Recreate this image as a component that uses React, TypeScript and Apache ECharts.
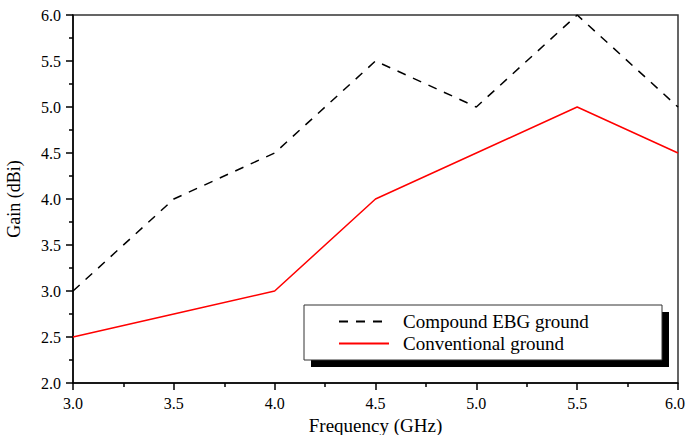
import React, { useEffect, useRef } from "react";
import * as echarts from "echarts";

const frequencies = [3.0, 3.5, 4.0, 4.5, 5.0, 5.5, 6.0];
const ebgGain = [3.0, 4.0, 4.5, 5.5, 5.0, 6.0, 5.0];
const conventionalGain = [2.5, 2.75, 3.0, 4.0, 4.5, 5.0, 4.5];
const seriesNames = ["Compound EBG ground", "Conventional ground"];

const FONT = "'Liberation Serif', 'Times New Roman', serif";

export default function App() {
  const ref = useRef<HTMLDivElement>(null);
  useEffect(() => {
    if (!ref.current) return;
    const chart = echarts.init(ref.current, undefined, { renderer: "svg" });
    const pairs = (ys: number[]) => frequencies.map((x, i) => [x, ys[i]]);
    chart.setOption({
      animation: false,
      backgroundColor: "#fff",
      textStyle: { fontFamily: FONT },
      grid: {
        left: 73,
        top: 15,
        right: 8,
        bottom: 52,
        show: true,
        borderColor: "#333",
        borderWidth: 1.5,
        containLabel: false,
        outerBoundsMode: "none",
      },
      xAxis: {
        type: "value",
        min: 3.0,
        max: 6.0,
        interval: 0.5,
        name: "Frequency (GHz)",
        nameLocation: "middle",
        nameGap: 23,
        nameTextStyle: { fontFamily: FONT, fontSize: 19, color: "#000" },
        axisLine: { lineStyle: { color: "#000", width: 1.5 } },
        axisTick: { show: true, length: 7, inside: false, lineStyle: { color: "#000", width: 1.5 } },
        minorTick: { show: true, splitNumber: 2, length: 4, lineStyle: { color: "#000", width: 1.5 } },
        splitLine: { show: false },
        axisLabel: {
          fontFamily: FONT,
          fontSize: 16,
          color: "#000",
          margin: 12,
          formatter: (v: number) => (v >= 6 ? "{m|" + v.toFixed(1) + "}" : v.toFixed(1)),
          rich: { m: { fontFamily: FONT, fontSize: 16, color: "#000", padding: [0, 6, 0, 0] } },
        },
      },
      yAxis: {
        type: "value",
        min: 2.0,
        max: 6.0,
        interval: 0.5,
        name: "Gain (dBi)",
        nameLocation: "middle",
        nameGap: 50,
        nameTextStyle: { fontFamily: FONT, fontSize: 18, color: "#000" },
        axisLine: { show: true, lineStyle: { color: "#000", width: 1.5 } },
        axisTick: { show: true, length: 7, inside: false, lineStyle: { color: "#000", width: 1.5 } },
        minorTick: { show: true, splitNumber: 2, length: 4, lineStyle: { color: "#000", width: 1.5 } },
        splitLine: { show: false },
        axisLabel: {
          fontFamily: FONT,
          fontSize: 16,
          color: "#000",
          margin: 12,
          formatter: (v: number) => v.toFixed(1),
        },
      },
      legend: {
        orient: "vertical",
        left: 338,
        top: 312,
        padding: 0,
        itemWidth: 50,
        itemHeight: 14,
        itemGap: 3,
        z: 10,
        itemStyle: { opacity: 0 },
        textStyle: {
          fontFamily: FONT,
          fontSize: 19,
          lineHeight: 19,
          color: "#000",
          padding: [0, 0, 0, 9],
        },
        data: seriesNames,
      },
      graphic: [
        {
          type: "rect",
          z: 5,
          shape: { x: 311, y: 312, width: 358, height: 55 },
          style: { fill: "#000" },
        },
        {
          type: "rect",
          z: 6,
          shape: { x: 304, y: 305, width: 358, height: 55 },
          style: { fill: "#fff", stroke: "#333", lineWidth: 1 },
        },
      ],
      series: [
        {
          name: seriesNames[0],
          type: "line",
          data: pairs(ebgGain),
          symbol: "none",
          lineStyle: { color: "#000", width: 1.5, type: [9, 8] },
          itemStyle: { color: "#000" },
          z: 3,
        },
        {
          name: seriesNames[1],
          type: "line",
          data: pairs(conventionalGain),
          symbol: "none",
          lineStyle: { color: "#ff0000", width: 1.5 },
          itemStyle: { color: "#ff0000" },
          z: 3,
        },
      ],
    });
    return () => chart.dispose();
  }, []);
  return (
    <div
      ref={ref}
      style={{ position: "fixed", left: 0, top: 0, width: 686, height: 435, background: "#fff" }}
    />
  );
}
